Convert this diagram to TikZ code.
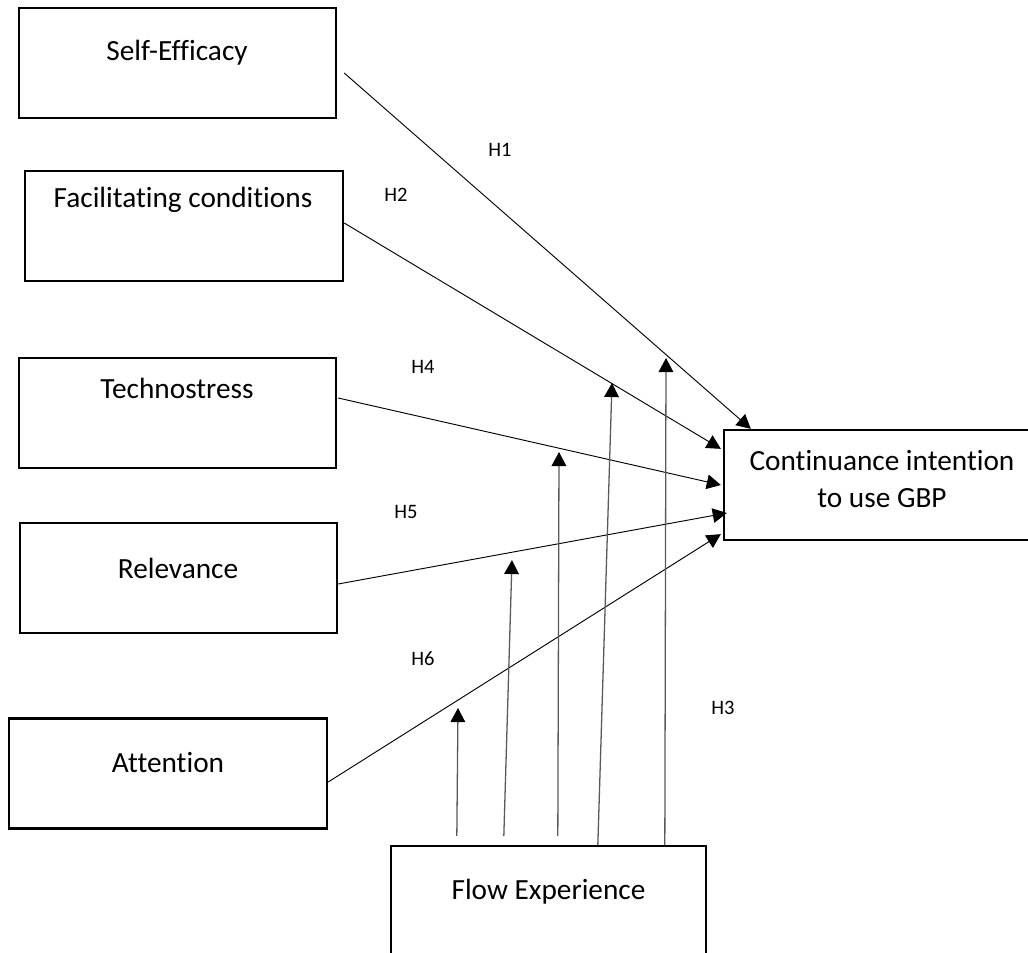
\documentclass[tikz,border=0pt]{standalone}
\usepackage{fontspec}
\setmainfont{Carlito}[Ligatures=NoCommon]
\usetikzlibrary{arrows.meta,calc}

\tikzset{
  box/.style={draw, line width=2pt, minimum height=3.3cm, inner sep=0pt},
  boxtext/.style={font=\fontsize{25}{32.3}\selectfont, align=center, inner sep=0pt},
  hyp/.style={font=\fontsize{17.5}{20}\selectfont, inner sep=0pt},
  link/.style={line width=0.8pt, -{Triangle[length=12pt,width=12.5pt]}},
  moder/.style={line width=1.1pt, draw=black!65, -{Triangle[length=12pt,width=12.5pt,color=black]}},
}

\begin{document}
\begin{tikzpicture}[x=0.03cm, y=-0.03cm]
  \useasboundingbox (0,0) rectangle (1028,953);
  \clip (0,0) rectangle (1028,953);

  % constructs on the left
  \node[box, minimum width=9.51cm] (se) at (177.5,63) {};
  \node[boxtext] (se-t) at (177,53) {Self-Efficacy};
  \node[box, minimum width=9.54cm] (fc) at (184,226) {};
  \node[boxtext] (fc-t) at (183,200) {Facilitating conditions};
  \node[box, minimum width=9.51cm] (te) at (177.5,413) {};
  \node[boxtext] (te-t) at (177,388) {Technostress};
  \node[box, minimum width=9.51cm] (re) at (178.5,578) {};
  \node[boxtext] (re-t) at (178,568) {Relevance};
  \node[box, minimum width=9.54cm] (at) at (168,773.5) {};
  \node[boxtext] (at-t) at (168,763) {Attention};

  % outcome and moderator
  \node[box, minimum width=9.48cm] (ci) at (882,485) {};
  \node[boxtext] (ci-t) at (882,479) {Continuance intention\\to use GBP};
  \node[box, minimum width=9.45cm] (fe) at (548.5,901) {};
  \node[boxtext] (fe-t) at (548.5,892) {Flow Experience};

  % hypothesis labels
  \node[hyp] (h1) at (500,150) {H1};
  \node[hyp] (h2) at (396,195) {H2};
  \node[hyp] (h4) at (423,367) {H4};
  \node[hyp] (h5) at (406,512) {H5};
  \node[hyp] (h6) at (423,659) {H6};
  \node[hyp] (h3) at (723,708) {H3};

  % direct paths
  \draw[link] ($(se.east)+(7,10)$) -- ($(ci.north west)+(28,0)$);
  \draw[link] ($(fc.east)+(0,-3)$) -- ($(ci.north west)+(-2,20)$);
  \draw[link] ($(te.east)+(1,-15)$) -- ($(ci.west)+(-2,0)$);
  \draw[link] ($(re.east)+(0,6)$) -- ($(ci.west)+(4,28)$);
  \draw[link] ($(at.east)+(0,8.5)$) -- ($(ci.south west)+(-2,-7)$);

  % moderating paths of flow experience
  \coordinate (m-at) at (458,708);
  \coordinate (m-re) at (512,560);
  \coordinate (m-te) at (559,452);
  \coordinate (m-fc) at (612,383);
  \coordinate (m-se) at (666,358);
  \draw[moder] ($(fe.north west)+(67,-9)$) -- (m-at);
  \draw[moder] ($(fe.north west)+(114,-9)$) -- (m-re);
  \draw[moder] ($(fe.north west)+(168,-9)$) -- (m-te);
  \draw[moder] ($(fe.north west)+(208,0)$) -- (m-fc);
  \draw[moder] ($(fe.north west)+(275,0)$) -- (m-se);
\end{tikzpicture}
\end{document}
